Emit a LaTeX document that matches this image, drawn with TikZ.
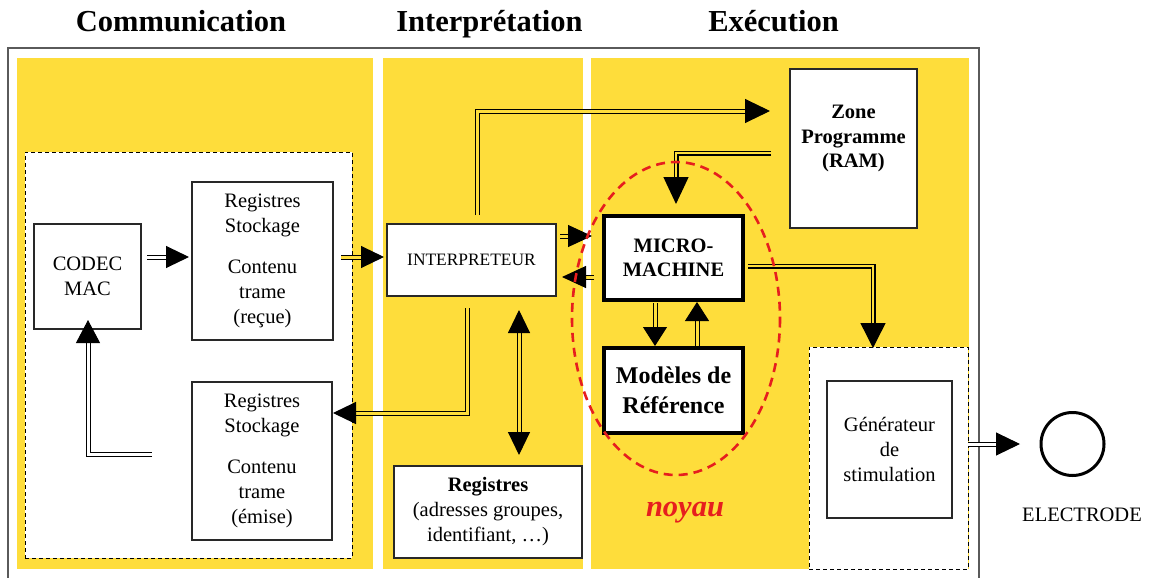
\documentclass[tikz,border=0pt]{standalone}
\usepackage{fontspec}
\setmainfont{Liberation Serif}
\usetikzlibrary{arrows.meta,calc,shapes.geometric}
\definecolor{yel}{RGB}{254,221,59}
\definecolor{nred}{RGB}{230,30,30}
\definecolor{frm}{RGB}{90,90,90}
\definecolor{bdr}{RGB}{40,40,40}
\begin{document}
\begin{tikzpicture}[x=1pt,y=-1pt,
  box/.style={draw=bdr,line width=1.2pt,fill=white,inner sep=0pt,outer sep=0pt,align=center,font=\fontsize{20.5}{25}\selectfont},
  thickbox/.style={draw=black,line width=4pt,fill=white,inner sep=0pt,outer sep=0pt,align=center},
  dbox/.style={draw=black,line width=1pt,dash pattern=on 4pt off 3pt,fill=white,inner sep=0pt,outer sep=0pt},
  title/.style={font=\bfseries\fontsize{30.5}{36}\selectfont,anchor=base},
  dblline/.style={draw=black,line width=1pt,double=#1,double distance=3pt},
  dblline/.default=yel,
  dblthick/.style={draw=black,line width=1.4pt,double=#1,double distance=2.2pt},
  dblthick/.default=yel,
  txt/.style={font=\fontsize{20.5}{25}\selectfont,align=center,inner sep=0pt}
]
\useasboundingbox (0,0) rectangle (1149,578);
\clip (0,0) rectangle (1149,578);
% titles
\node[title] (t1) at (181,32) {Communication};
\node[title] (t2) at (489.5,32) {Interprétation};
\node[title] (t3) at (773.5,32) {Exécution};
% frame
\draw[frm,line width=1.8pt] (8,48) rectangle (979,610);
% panels
\fill[yel] (17,58) rectangle (373,569);
\fill[yel] (383,58) rectangle (583,569);
\fill[yel] (591,58) rectangle (969,569);
% dashed boxes
\node[dbox,minimum width=327,minimum height=406] (comm) at (188.5,355) {};
\node[dbox,minimum width=159,minimum height=222] (genbox) at (888.5,458) {};
% boxes
\node[box,minimum width=107,minimum height=105] (codec) at (87.5,276.5) {CODEC\\MAC};
\node[box,minimum width=141,minimum height=158] (regr) at (262.5,261) {Registres\\Stockage\\[16pt]Contenu\\trame\\(reçue)};
\node[box,minimum width=140,minimum height=158] (rege) at (262,461) {Registres\\Stockage\\[16pt]Contenu\\trame\\(émise)};
\node[box,minimum width=169,minimum height=72,font=\fontsize{17.4}{21}\selectfont] (interp) at (471.5,260) {INTERPRETEUR};
\node[box,minimum width=188,minimum height=92] (regs) at (488,512) {\textbf{Registres}\\(adresses groupes,\\identifiant, …)};
\node[box,minimum width=127,minimum height=159] (zone) at (853.5,148.5) {};
\node[txt,font=\bfseries\fontsize{20.5}{24.5}\selectfont] (zonetxt) at ($(zone.center)+(0,-10)$) {Zone\\Programme\\(RAM)};
\node[thickbox,minimum width=139,minimum height=84,font=\bfseries\fontsize{20.5}{23.5}\selectfont] (micro) at (673.5,258) {MICRO-\\MACHINE};
\node[thickbox,minimum width=139,minimum height=85,font=\bfseries\fontsize{24}{30}\selectfont] (model) at (673.5,390.5) {Modèles de\\Référence};
\node[box,minimum width=125,minimum height=137] (gen) at (889.5,449.5) {Générateur\\de\\stimulation};
\node[circle,draw=black,line width=3pt,minimum size=63,inner sep=0pt,outer sep=0pt] (elec) at (1072.5,444) {};
\node[txt] (elab) at (1082,515) {ELECTRODE};
% connectors
\draw[dblline=white,-{Triangle[length=23pt,width=22pt]}] ($(codec.east)+(6,-19.5)$) -- ($(regr.west)+(-3,-4)$);
\draw[dblline,-{Triangle[length=23pt,width=22pt]}] ($(regr.east)+(8,-4)$) -- ($(interp.west)+(-3,-3)$);
\draw[dblline,-{Triangle[length=25pt,width=24pt]}] ($(interp.north)+(5.5,-9)$) |- ($(zone.west)+(-20,-37.5)$);
\draw[dblthick,-{Triangle[length=27pt,width=25pt]}] ($(zone.west)+(-19,4.5)$) -| ($(micro.north)+(2.5,-12)$);
\draw[dblline,-{Triangle[length=24pt,width=22pt]}] ($(interp.east)+(4,-24)$) -- ($(micro.west)+(-12,-22)$);
\draw[dblline,-{Triangle[length=24pt,width=22pt]}] ($(micro.west)+(-10,19)$) -- ($(interp.east)+(6,17)$);
\draw[dblline,-{Triangle[length=19pt,width=24pt]}] ($(micro.south)+(-18.5,3)$) -- ($(model.north)+(-18.5,-2)$);
\draw[dblline,-{Triangle[length=19pt,width=24pt]}] ($(model.north)+(23.5,-2)$) -- ($(micro.south)+(23.5,2)$);
\draw[dblthick,-{Triangle[length=25pt,width=25pt]}] ($(micro.east)+(5,8)$) -| ($(genbox.north)+(-15.5,1)$);
\draw[dblline=white,-{Triangle[length=24pt,width=23pt]}] ($(genbox.east)+(0,-14)$) -- ($(elec.west)+(-21,0)$);
\draw[dblline,-{Triangle[length=23pt,width=22pt]}] ($(interp.south)+(-4.5,12)$) |- ($(rege.east)+(1,-48)$);
\draw[dblline,{Triangle[length=23pt,width=22pt]}-{Triangle[length=23pt,width=22pt]}] ($(interp.south)+(47.5,14)$) -- ($(regs.north)+(31,-11)$);
\draw[dblline=white,-{Triangle[length=23pt,width=24pt]}] ($(rege.west)+(-40,-7)$) -| ($(codec.south)+(0.5,-9)$);
% noyau
\draw[nred,line width=2.6pt,dash pattern=on 9pt off 6pt] (676,318.5) ellipse [x radius=104, y radius=156.5];
\node[font=\bfseries\itshape\fontsize{30.5}{36}\selectfont,text=nred] (noy) at (685,513) {noyau};
\end{tikzpicture}
\end{document}
